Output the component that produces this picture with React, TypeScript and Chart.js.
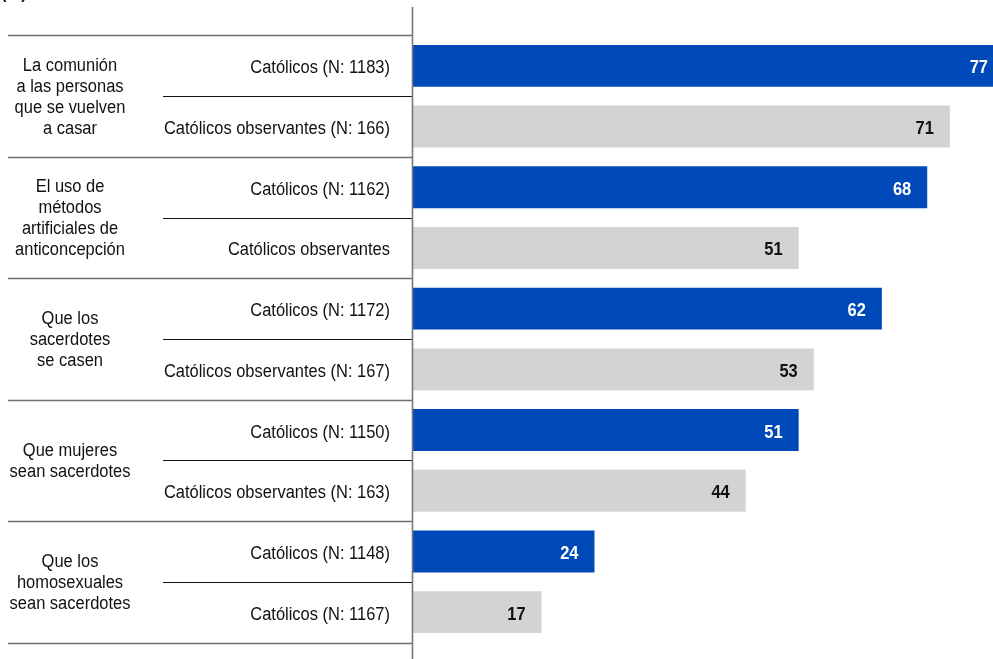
import React, { useEffect, useRef } from "react";
import { Chart, registerables } from "chart.js";

Chart.register(...registerables);

const groupLabels: string[][] = [
  ["La comunión", "a las personas", "que se vuelven", "a casar"],
  ["El uso de", "métodos", "artificiales de", "anticoncepción"],
  ["Que los", "sacerdotes", "se casen"],
  ["Que mujeres", "sean sacerdotes"],
  ["Que los", "homosexuales", "sean sacerdotes"],
];

const subLabels: string[] = [
  "Católicos (N: 1183)",
  "Católicos observantes (N: 166)",
  "Católicos (N: 1162)",
  "Católicos observantes",
  "Católicos (N: 1172)",
  "Católicos observantes (N: 167)",
  "Católicos (N: 1150)",
  "Católicos observantes (N: 163)",
  "Católicos (N: 1148)",
  "Católicos (N: 1167)",
];

const values: number[] = [77, 71, 68, 51, 62, 53, 51, 44, 24, 17];

const BLUE = "#0049B9";
const GREY = "#D2D3D5";
const FONT = "'Liberation Sans', Arial, sans-serif";
const SX = 0.915;

function drawText(ctx: CanvasRenderingContext2D, text: string, x: number, y: number, align: CanvasTextAlign) {
  ctx.save();
  ctx.translate(x, y);
  ctx.scale(SX, 1);
  ctx.textAlign = align;
  ctx.fillText(text, 0, 0);
  ctx.restore();
}

const overlayPlugin = {
  id: "overlay",
  afterDraw(chart: any) {
    const ctx = chart.ctx as CanvasRenderingContext2D;
    const area = chart.chartArea;
    const y = chart.scales.y;
    const n = values.length;
    const band = (area.bottom - area.top) / n;
    const axisX = area.left - 0.5;
    ctx.save();
    // "(%)" label, cut off at top
    ctx.fillStyle = "#222";
    ctx.font = `bold 18px ${FONT}`;
    ctx.textBaseline = "alphabetic";
    drawText(ctx, "(%)", 1, -2, "left");

    // group separators
    ctx.strokeStyle = "#6e6e6e";
    ctx.lineWidth = 1.6;
    for (let g = 0; g <= groupLabels.length; g++) {
      const py = Math.round(y.getPixelForValue(g * 2) - band / 2) + 0.5;
      ctx.beginPath();
      ctx.moveTo(8, py);
      ctx.lineTo(axisX, py);
      ctx.stroke();
    }
    // sub separators
    ctx.strokeStyle = "#111";
    ctx.lineWidth = 1;
    for (let g = 0; g < groupLabels.length; g++) {
      const py = Math.round(y.getPixelForValue(g * 2 + 0.5)) + 0.5;
      ctx.beginPath();
      ctx.moveTo(163, py);
      ctx.lineTo(axisX, py);
      ctx.stroke();
    }
    // axis line
    ctx.strokeStyle = "#777";
    ctx.lineWidth = 1.6;
    ctx.beginPath();
    ctx.moveTo(axisX, 7);
    ctx.lineTo(axisX, chart.height);
    ctx.stroke();

    // group labels
    ctx.fillStyle = "#111";
    ctx.font = `18px ${FONT}`;
    ctx.textBaseline = "middle";
    const lh = 21;
    groupLabels.forEach((lines, g) => {
      const cy = (y.getPixelForValue(g * 2) + y.getPixelForValue(g * 2 + 1)) / 2;
      const start = cy - ((lines.length - 1) * lh) / 2;
      lines.forEach((t, i) => drawText(ctx, t, 70, start + i * lh + 1, "center"));
    });
    // sub labels
    subLabels.forEach((t, i) => {
      drawText(ctx, t, 390, y.getPixelForValue(i) + 2.5, "right");
    });
    // values
    const meta = chart.getDatasetMeta(0);
    ctx.font = `bold 18px ${FONT}`;
    meta.data.forEach((bar: any, i: number) => {
      ctx.fillStyle = i % 2 === 0 ? "#fff" : "#111";
      const x = bar.x >= area.right ? area.right - 5 : bar.x - 16;
      drawText(ctx, String(values[i]), x, bar.y + 2.5, "right");
    });
    ctx.restore();
  },
};

export default function App() {
  const ref = useRef<HTMLCanvasElement>(null);
  useEffect(() => {
    document.body.style.margin = "0";
    const chart = new Chart(ref.current!, {
      type: "bar",
      data: {
        labels: subLabels,
        datasets: [
          {
            data: values,
            backgroundColor: values.map((_, i) => (i % 2 === 0 ? BLUE : GREY)),
            barPercentage: 0.69,
            categoryPercentage: 1,
          },
        ],
      },
      options: {
        indexAxis: "y",
        responsive: false,
        animation: false,
        layout: { padding: { left: 413, top: 35.5, bottom: 16.5, right: 0 } },
        plugins: { legend: { display: false }, tooltip: { enabled: false } },
        scales: {
          x: { display: false, min: 0, max: 76.7 },
          y: { display: false },
        },
      },
      plugins: [overlayPlugin],
    });
    return () => chart.destroy();
  }, []);
  return (
    <div style={{ position: "fixed", left: 0, top: 0, width: 993, height: 659, background: "#fff" }}>
      <canvas ref={ref} width={993} height={659} style={{ display: "block" }} />
    </div>
  );
}
